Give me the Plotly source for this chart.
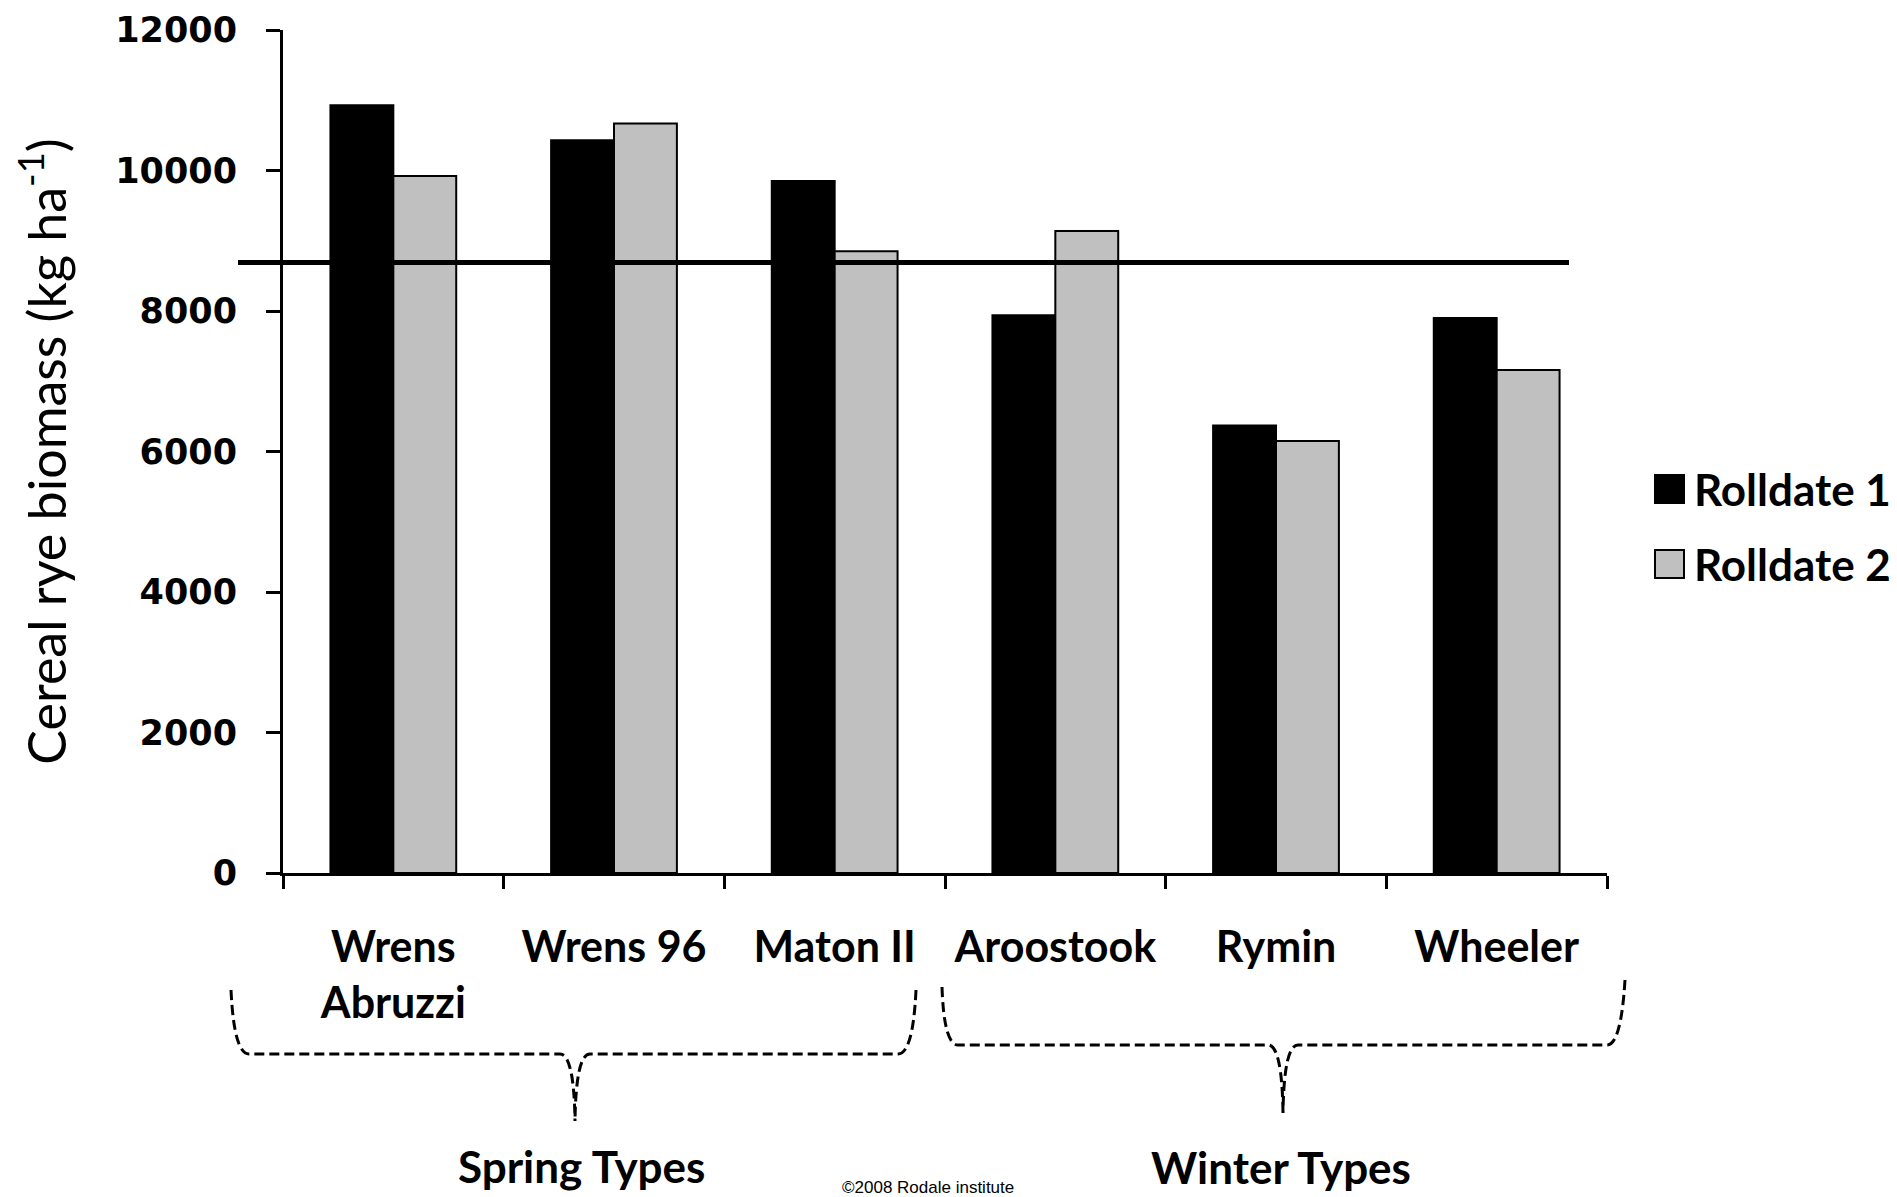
import plotly.graph_objects as go

# ---------------- data ----------------
categories = ["Wrens<br>Abruzzi", "Wrens 96", "Maton II", "Aroostook", "Rymin", "Wheeler"]
series_names = ["Rolldate 1", "Rolldate 2"]
rolldate1 = [10930, 10430, 9850, 7940, 6370, 7900]
rolldate2 = [9920, 10670, 8850, 9140, 6150, 7160]
mean_biomass = 8690
y_tick_values = [0, 2000, 4000, 6000, 8000, 10000, 12000]
group_labels = ["Spring Types", "Winter Types"]
copyright_text = "©2008 Rodale institute"

# ---------------- layout geometry (reference pixels) ----------------
OFF = 8  # default page body margin
W, H = 1897 - OFF, 1197 - OFF
L, R, T, B = 283, 1607, 30, 873
PW, PH = R - L, B - T


def px(x, y):
    return (x - L) / PW, (B - y) / PH


def path_from(points_cmds):
    out = []
    for cmd, pts in points_cmds:
        coords = " ".join("%.5f,%.5f" % px(*p) for p in pts)
        out.append(cmd + coords)
    return " ".join(out)


fig = go.Figure()
colors = ["#000000", "#C0C0C0"]
for name, vals, col in zip(series_names, [rolldate1, rolldate2], colors):
    fig.add_trace(go.Bar(
        x=categories, y=vals, name=name,
        marker=dict(color=col, line=dict(color="#000000", width=2)),
        showlegend=False,
    ))

shapes = []
# mean line
shapes.append(dict(type="line", xref="paper", yref="y",
                   x0=px(238, 0)[0], x1=px(1569, 0)[0],
                   y0=mean_biomass, y1=mean_biomass,
                   line=dict(color="#000000", width=5)))

dash = "10px,5px"
spring = path_from([
    ("M", [(231, 990)]), ("Q", [(234, 1054), (249, 1054)]), ("L", [(560, 1054)]),
    ("Q", [(574, 1054), (575, 1121)]),
    ("M", [(916, 990)]), ("Q", [(913, 1054), (898, 1054)]), ("L", [(590, 1054)]),
    ("Q", [(576, 1054), (575, 1121)]),
])
winter = path_from([
    ("M", [(942, 987)]), ("Q", [(944, 1045), (958, 1045)]), ("L", [(1268, 1045)]),
    ("Q", [(1282, 1045), (1283, 1113)]),
    ("M", [(1625, 980)]), ("Q", [(1621, 1045), (1607, 1045)]), ("L", [(1298, 1045)]),
    ("Q", [(1284, 1045), (1283, 1113)]),
])
for p in (spring, winter):
    shapes.append(dict(type="path", xref="paper", yref="paper", path=p,
                       line=dict(color="#000000", width=3, dash=dash)))

# legend squares
leg_y = [489, 564]
for yc, col in zip(leg_y, colors):
    x0, y0 = px(1655, yc - 14)
    x1, y1 = px(1684, yc + 14)
    shapes.append(dict(type="rect", xref="paper", yref="paper",
                       x0=x0, x1=x1, y0=y0, y1=y1,
                       fillcolor=col, line=dict(color="#000000", width=2)))

annotations = []
for yc, name in zip(leg_y, series_names):
    ax, ay = px(1692, yc)
    annotations.append(dict(xref="paper", yref="paper", x=ax, y=ay,
                            text=name, showarrow=False, xanchor="left", yanchor="middle",
                            font=dict(family="Lato", size=44, color="#000000", weight="bold")))

for (gx, gy), g in zip([(581, 1166), (1281, 1167)], group_labels):
    ax, ay = px(gx, gy)
    annotations.append(dict(xref="paper", yref="paper", x=ax, y=ay, text=g,
                            showarrow=False, xanchor="center", yanchor="middle",
                            font=dict(family="Lato", size=44, color="#000000", weight="bold")))

cx, cy = px(928, 1176)
annotations.append(dict(xref="paper", yref="paper", x=cx, y=cy, text=copyright_text,
                        showarrow=False, xanchor="center", yanchor="top",
                        font=dict(family="Liberation Sans", size=17, color="#000000")))

fig.update_layout(
    width=W, height=H,
    margin=dict(l=L - OFF, r=W - (R - OFF), t=T - OFF, b=H - (B - OFF), autoexpand=False),
    paper_bgcolor="white", plot_bgcolor="white",
    barmode="group", bargap=0.43, bargroupgap=0,
    shapes=shapes, annotations=annotations,
    xaxis=dict(
        range=[-0.5, 5.5], showgrid=False, zeroline=False, automargin=False,
        showline=True, linecolor="#000000", linewidth=3,
        ticks="outside", ticklen=13, tickwidth=3, tickcolor="#000000",
        tickson="boundaries", ticklabelstandoff=34,
        tickfont=dict(family="Lato", size=43, color="#000000", weight="bold"),
    ),
    yaxis=dict(
        range=[0, 12000], tickvals=y_tick_values, tickformat="d",
        showgrid=False, zeroline=False, automargin=False,
        showline=True, linecolor="#000000", linewidth=3,
        ticks="outside", ticklen=14, tickwidth=3, tickcolor="#000000",
        ticklabelstandoff=22,
        tickfont=dict(family="DejaVu Sans", size=35, color="#000000", weight="bold"),
        title=dict(text="Cereal rye biomass (kg ha<sup>-1</sup>)", standoff=36,
                   font=dict(family="Lato", size=52, color="#000000")),
    ),
)

fig.write_html("out.html")
